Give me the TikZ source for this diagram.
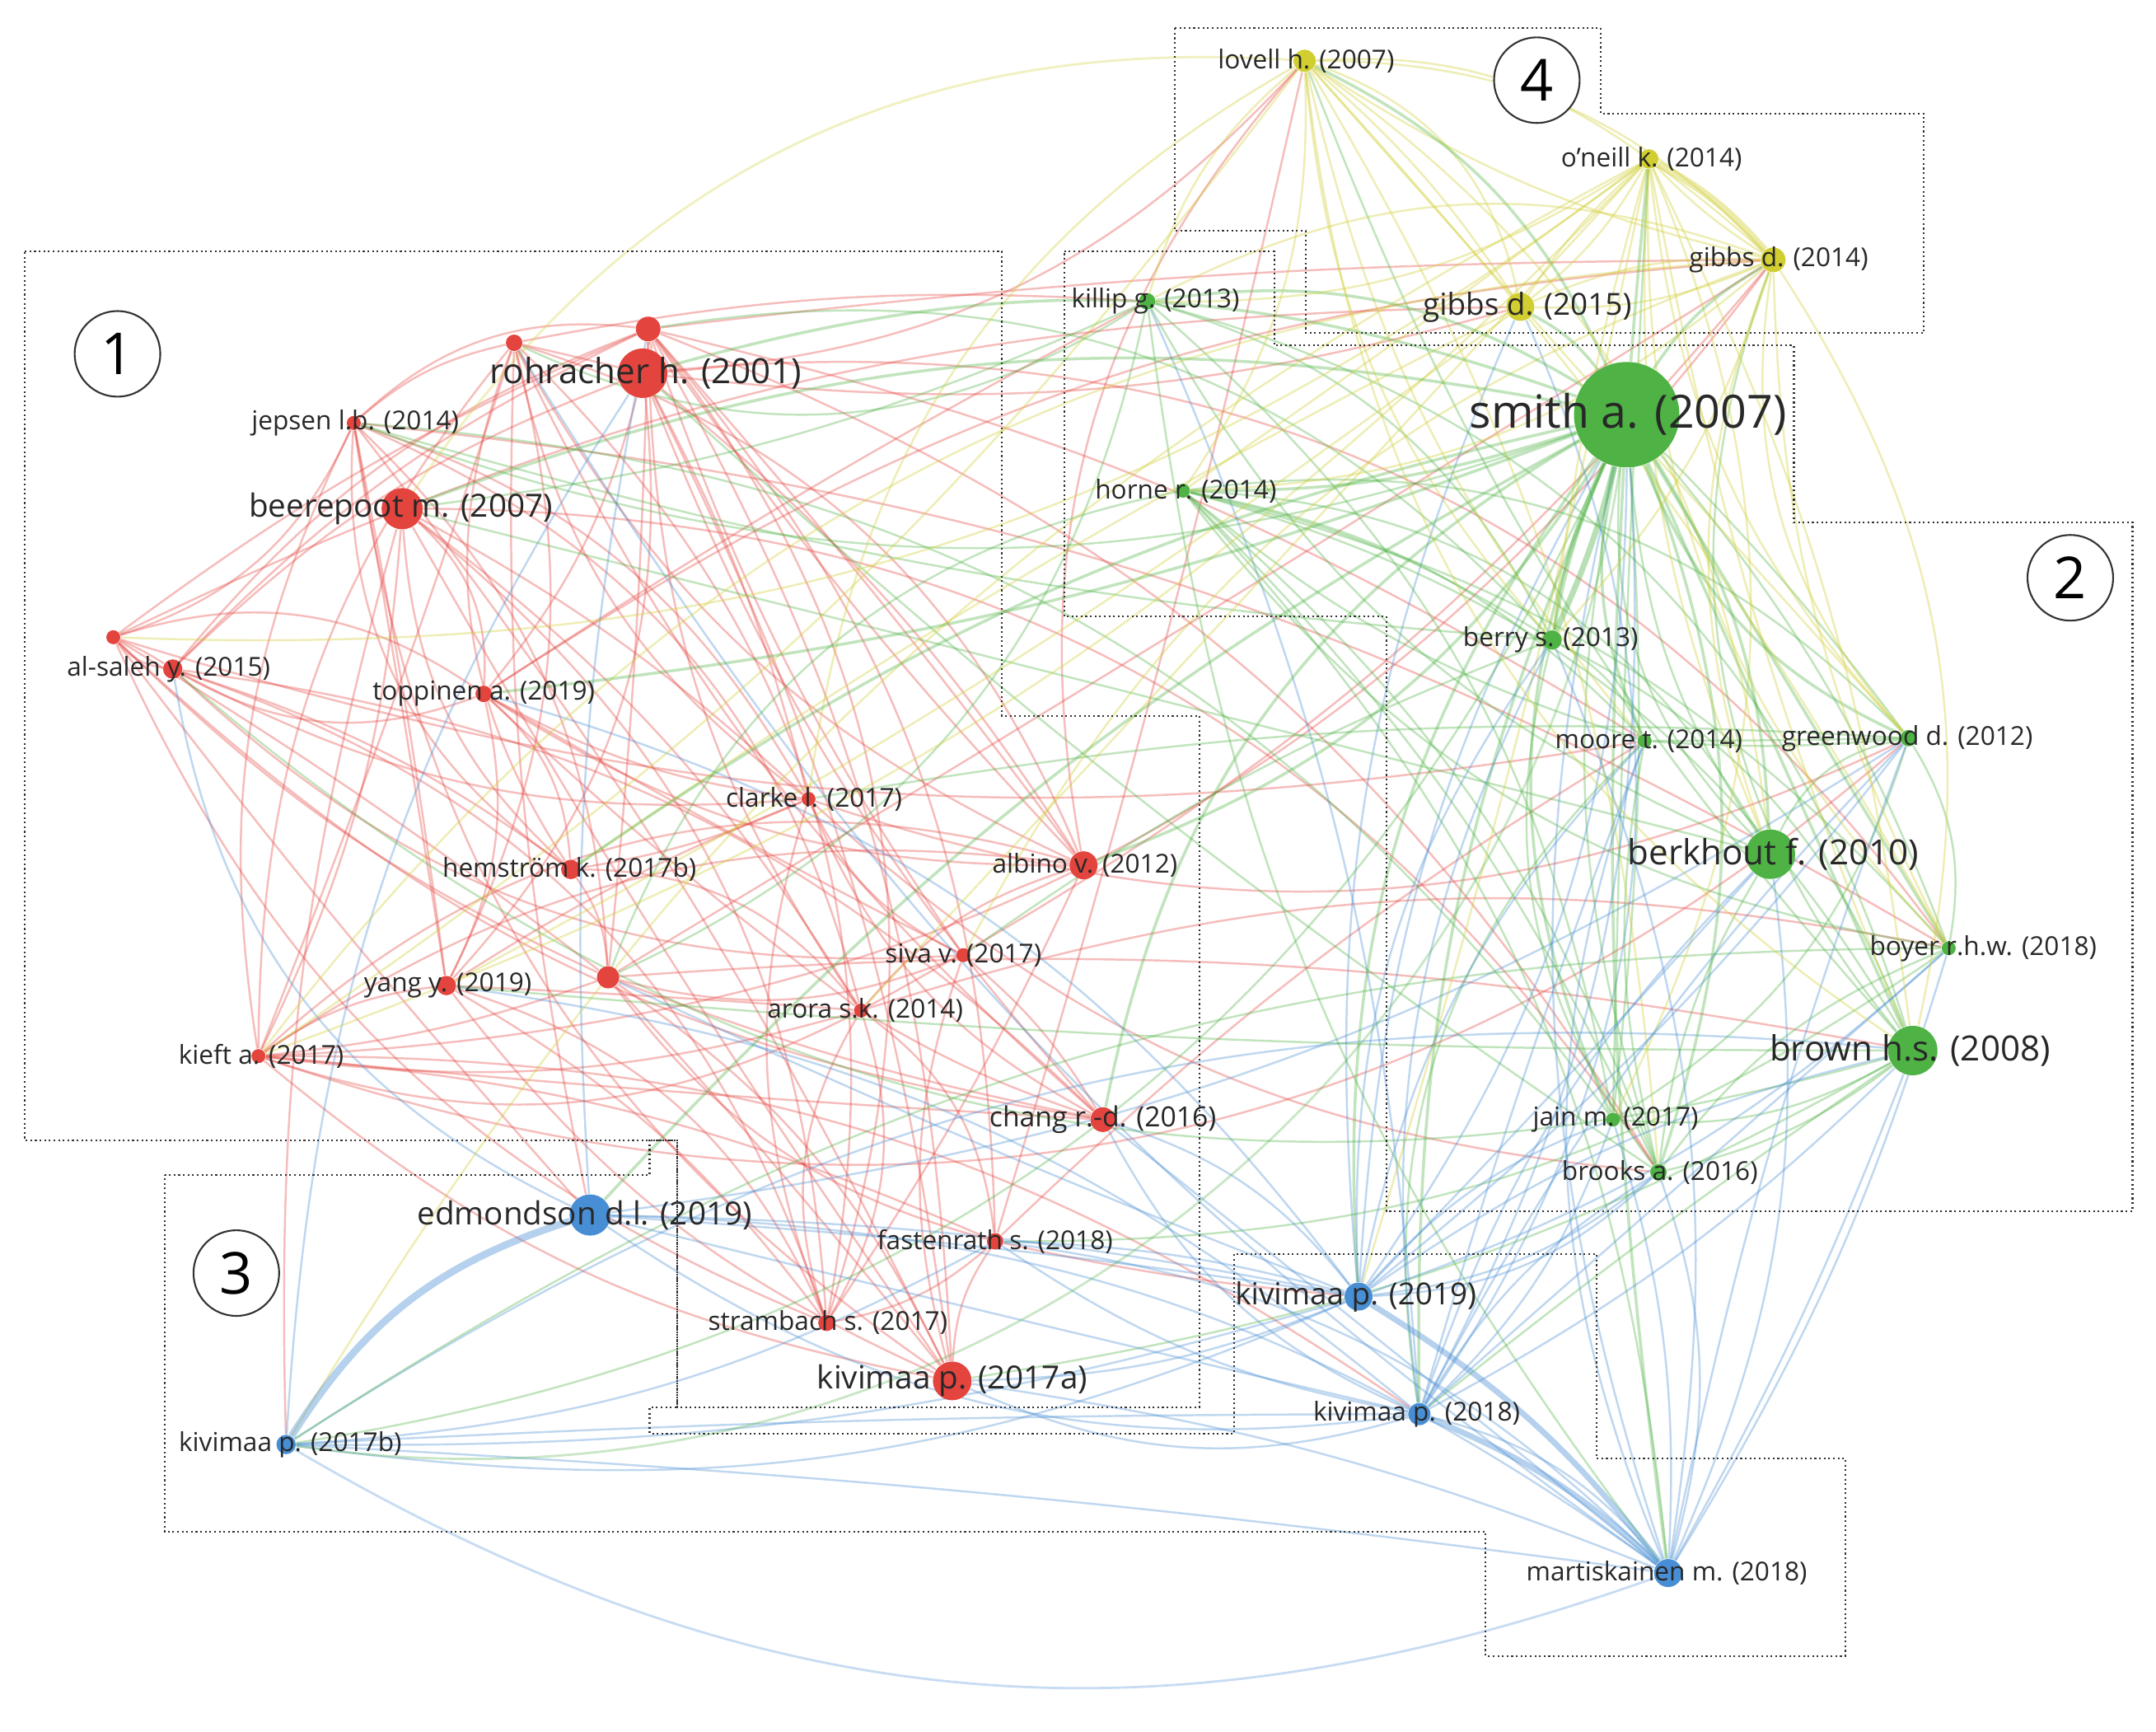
\documentclass[tikz,border=0pt]{standalone}
\usepackage{fontspec}
\setmainfont{Open Sans}
\usetikzlibrary{backgrounds}
\definecolor{cr}{RGB}{228,68,62}
\definecolor{cg}{RGB}{78,178,68}
\definecolor{cb}{RGB}{72,142,212}
\definecolor{cy}{RGB}{208,206,48}
\definecolor{tx}{RGB}{40,40,40}
\begin{document}
\begin{tikzpicture}[x=0.01678cm,y=-0.01678cm,
  dot/.style={circle,inner sep=0pt,draw=none},
  lab/.style={text=tx,inner sep=0pt,font=\fontsize{9}{10}\selectfont},
  labm/.style={text=tx,inner sep=0pt,font=\fontsize{11}{12}\selectfont},
  labn/.style={text=tx,inner sep=0pt,font=\fontsize{10.5}{12}\selectfont},
  labl/.style={text=tx,inner sep=0pt,font=\fontsize{12}{14}\selectfont},
  box/.style={draw=black!80,densely dotted,line width=0.6pt},
  edge/.style={opacity=0.35,line width=0.7pt},
  num/.style={circle,draw=black!80,line width=0.6pt,minimum size=1.04cm,inner sep=0pt,font=\fontsize{20}{20}\selectfont}]
\useasboundingbox (0,0) rectangle (1560,1253);
% red nodes
\node[dot,fill=cr,minimum size=0.60cm] (roh) at (465,270) {};
\node[dot,fill=cr,minimum size=0.30cm] (ra) at (469,238) {};
\node[dot,fill=cr,minimum size=0.20cm] (rb) at (372,248) {};
\node[dot,fill=cr,minimum size=0.17cm] (jep) at (256,306) {};
\node[dot,fill=cr,minimum size=0.50cm] (bee) at (291,368) {};
\node[dot,fill=cr,minimum size=0.235cm] (als) at (125,484) {};
\node[dot,fill=cr,minimum size=0.17cm] (rc) at (82,461) {};
\node[dot,fill=cr,minimum size=0.20cm] (top) at (350,502) {};
\node[dot,fill=cr,minimum size=0.17cm] (cla) at (585,578) {};
\node[dot,fill=cr,minimum size=0.235cm] (hem) at (413,629) {};
\node[dot,fill=cr,minimum size=0.34cm] (alb) at (784,626) {};
\node[dot,fill=cr,minimum size=0.17cm] (siv) at (697,691) {};
\node[dot,fill=cr,minimum size=0.235cm] (yan) at (323,713) {};
\node[dot,fill=cr,minimum size=0.27cm] (rd) at (440,707) {};
\node[dot,fill=cr,minimum size=0.17cm] (aro) at (623,731) {};
\node[dot,fill=cr,minimum size=0.17cm] (kie) at (187,764) {};
\node[dot,fill=cr,minimum size=0.30cm] (cha) at (798,810) {};
\node[dot,fill=cr,minimum size=0.20cm] (fas) at (720,898) {};
\node[dot,fill=cr,minimum size=0.20cm] (str) at (598,957) {};
\node[dot,fill=cr,minimum size=0.47cm] (kva) at (689,999) {};
% blue
\node[dot,fill=cb,minimum size=0.50cm] (edm) at (427,879) {};
\node[dot,fill=cb,minimum size=0.34cm] (k19) at (983,938) {};
\node[dot,fill=cb,minimum size=0.27cm] (k18) at (1027,1023) {};
\node[dot,fill=cb,minimum size=0.235cm] (kvb) at (207,1045) {};
\node[dot,fill=cb,minimum size=0.34cm] (mar) at (1207,1138) {};
% green
\node[dot,fill=cg,minimum size=0.20cm] (kil) at (830,218) {};
\node[dot,fill=cg,minimum size=0.17cm] (hor) at (856,355) {};
\node[dot,fill=cg,minimum size=1.28cm] (smi) at (1177,300) {};
\node[dot,fill=cg,minimum size=0.235cm] (ber) at (1123,463) {};
\node[dot,fill=cg,minimum size=0.17cm] (moo) at (1190,536) {};
\node[dot,fill=cg,minimum size=0.20cm] (gre) at (1381,534) {};
\node[dot,fill=cg,minimum size=0.60cm] (brk) at (1281,618) {};
\node[dot,fill=cg,minimum size=0.17cm] (boy) at (1410,686) {};
\node[dot,fill=cg,minimum size=0.60cm] (bro) at (1384,760) {};
\node[dot,fill=cg,minimum size=0.17cm] (jai) at (1167,810) {};
\node[dot,fill=cg,minimum size=0.20cm] (brs) at (1200,848) {};
% yellow
\node[dot,fill=cy,minimum size=0.27cm] (lov) at (944,44) {};
\node[dot,fill=cy,minimum size=0.235cm] (one) at (1193,115) {};
\node[dot,fill=cy,minimum size=0.30cm] (g14) at (1283,188) {};
\node[dot,fill=cy,minimum size=0.34cm] (g15) at (1100,222) {};
% edges
\begin{scope}[on background layer]
\fill[white] (0,0) rectangle (1560,1253);
\pgfmathsetseed{7}
\foreach \a/\c in {roh/cr,ra/cr,rb/cr,jep/cr,bee/cr,als/cr,rc/cr,top/cr,cla/cr,hem/cr,alb/cr,siv/cr,yan/cr,rd/cr,aro/cr,kie/cr,cha/cr,fas/cr,str/cr,kva/cr,edm/cb,k19/cb,k18/cb,kvb/cb,mar/cb,kil/cg,hor/cg,smi/cg,ber/cg,moo/cg,gre/cg,brk/cg,boy/cg,bro/cg,jai/cg,brs/cg,lov/cy,one/cy,g14/cy,g15/cy}{
 \foreach \b/\d in {roh/cr,ra/cr,rb/cr,jep/cr,bee/cr,als/cr,rc/cr,top/cr,cla/cr,hem/cr,alb/cr,siv/cr,yan/cr,rd/cr,aro/cr,kie/cr,cha/cr,fas/cr,str/cr,kva/cr,edm/cb,k19/cb,k18/cb,kvb/cb,mar/cb,kil/cg,hor/cg,smi/cg,ber/cg,moo/cg,gre/cg,brk/cg,boy/cg,bro/cg,jai/cg,brs/cg,lov/cy,one/cy,g14/cy,g15/cy}{
  \edef\ta{\a}\edef\tb{\b}\edef\tc{\c}\edef\td{\d}
  \pgfmathsetmacro\p{rnd}
  \pgfmathsetmacro\bb{rand*30}
  \ifx\ta\tb\else
   \ifx\tc\td \def\lim{0.28}\else\def\lim{0.09}\fi
   \ifdim\p pt<\lim pt
    \draw[\c,edge] (\a) to[bend left=\bb] (\b);
   \fi
  \fi
 }}
% hubs
\foreach \b in {kil,hor,ber,moo,gre,brk,boy,bro,jai,brs,one,g14,g15,lov,k19,k18,mar,roh,bee,top,hem,alb,cha,edm}{
  \pgfmathsetmacro\bb{rand*25}
  \draw[cg,edge,line width=1pt] (smi) to[bend left=\bb] (\b);}
\foreach \a in {k19,k18,mar}{
 \foreach \b in {ber,moo,gre,brk,boy,bro,jai,brs,smi,cha,fas,kva,edm}{
  \pgfmathsetmacro\bb{rand*25}
  \draw[cb,edge] (\a) to[bend left=\bb] (\b);}}
\foreach \a in {lov,one,g14}{
 \foreach \b in {g15,brk,bro,ber,gre,boy,kil,hor}{
  \pgfmathsetmacro\bb{rand*25}
  \draw[cy,edge] (\a) to[bend left=\bb] (\b);}}
\draw[cy,opacity=0.4,line width=2.5pt] (one) to[bend left=10] (g14);
\draw[cb,opacity=0.4,line width=2.5pt] (edm) to[bend right=20] (kvb);
\draw[cb,opacity=0.4,line width=2pt] (k18) to[bend left=10] (mar);
\draw[cb,opacity=0.4,line width=2pt] (k19) to[bend left=10] (mar);
\draw[cg,opacity=0.4,line width=2pt] (smi) to[bend left=5] (ber);
\draw[cb,opacity=0.3,line width=0.8pt] (kvb) to[bend right=25] (mar);
\draw[cy,opacity=0.3,line width=0.8pt] (lov) to[bend right=30] (bee);
\draw[cg,opacity=0.3,line width=0.8pt] (smi) to[bend left=45] (kvb);
\end{scope}
% labels
\node[labl] at (467,270) {rohracher h. (2001)};
\node[lab] at (257,306) {jepsen l.b. (2014)};
\node[labm] at (290,368) {beerepoot m. (2007)};
\node[lab] at (122,484) {al-saleh y. (2015)};
\node[lab] at (350,502) {toppinen a. (2019)};
\node[lab] at (589,578) {clarke l. (2017)};
\node[lab] at (412,629) {hemström k. (2017b)};
\node[lab] at (785,626) {albino v. (2012)};
\node[lab] at (697,691) {siva v. (2017)};
\node[lab] at (324,713) {yang y. (2019)};
\node[lab] at (626,731) {arora s.k. (2014)};
\node[lab] at (189,764) {kieft a. (2017)};
\node[text=tx,inner sep=0pt,font=\fontsize{9.6}{11}\selectfont] at (798,810) {chang r.-d. (2016)};
\node[lab] at (720,898) {fastenrath s. (2018)};
\node[lab] at (599,957) {strambach s. (2017)};
\node[labm] at (689,999) {kivimaa p. (2017a)};
\node[labm] at (423,879) {edmondson d.l. (2019)};
\node[labn] at (981,938) {kivimaa p. (2019)};
\node[lab] at (1025,1023) {kivimaa p. (2018)};
\node[lab] at (210,1045) {kivimaa p. (2017b)};
\node[lab] at (1206,1138) {martiskainen m. (2018)};
\node[lab] at (836,218) {killip g. (2013)};
\node[lab] at (858,355) {horne r. (2014)};
\node[text=tx,inner sep=0pt,font=\fontsize{15.8}{18}\selectfont] at (1178,300) {smith a. (2007)};
\node[lab] at (1122,463) {berry s. (2013)};
\node[lab] at (1193,536) {moore t. (2014)};
\node[lab] at (1380,534) {greenwood d. (2012)};
\node[labl] at (1283,618) {berkhout f. (2010)};
\node[lab] at (1435,686) {boyer r.h.w. (2018)};
\node[labl] at (1382,760) {brown h.s. (2008)};
\node[lab] at (1169,810) {jain m. (2017)};
\node[lab] at (1201,848) {brooks a. (2016)};
\node[lab] at (945,44) {lovell h. (2007)};
\node[lab] at (1195,115) {o'neill k. (2014)};
\node[lab] at (1287,188) {gibbs d. (2014)};
\node[labn] at (1105,222) {gibbs d. (2015)};
% boxes
\draw[box] (18,182)--(725,182)--(725,518)--(868,518)--(868,1018)--(490,1018)--(490,825)--(18,825)--cycle;
\draw[box] (770,182)--(922,182)--(922,250)--(1298,250)--(1298,378)--(1543,378)--(1543,876)--(1003,876)--(1003,446)--(770,446)--cycle;
\draw[box] (119,850)--(470,850)--(470,825)--(490,825)--(490,1018)--(470,1018)--(470,1037)--(893,1037)--(893,907)--(1155,907)--(1155,1055)--(1335,1055)--(1335,1198)--(1075,1198)--(1075,1108)--(119,1108)--cycle;
\draw[box] (850,20)--(1158,20)--(1158,82)--(1392,82)--(1392,241)--(945,241)--(945,167)--(850,167)--cycle;
\node[num,fill=white] (c1) at (85,256) {1};
\node[num,fill=white] (c2) at (1498,418) {2};
\node[num,fill=white] (c3) at (171,921) {3};
\node[num,fill=white] (c4) at (1112,58) {4};
\end{tikzpicture}
\end{document}
